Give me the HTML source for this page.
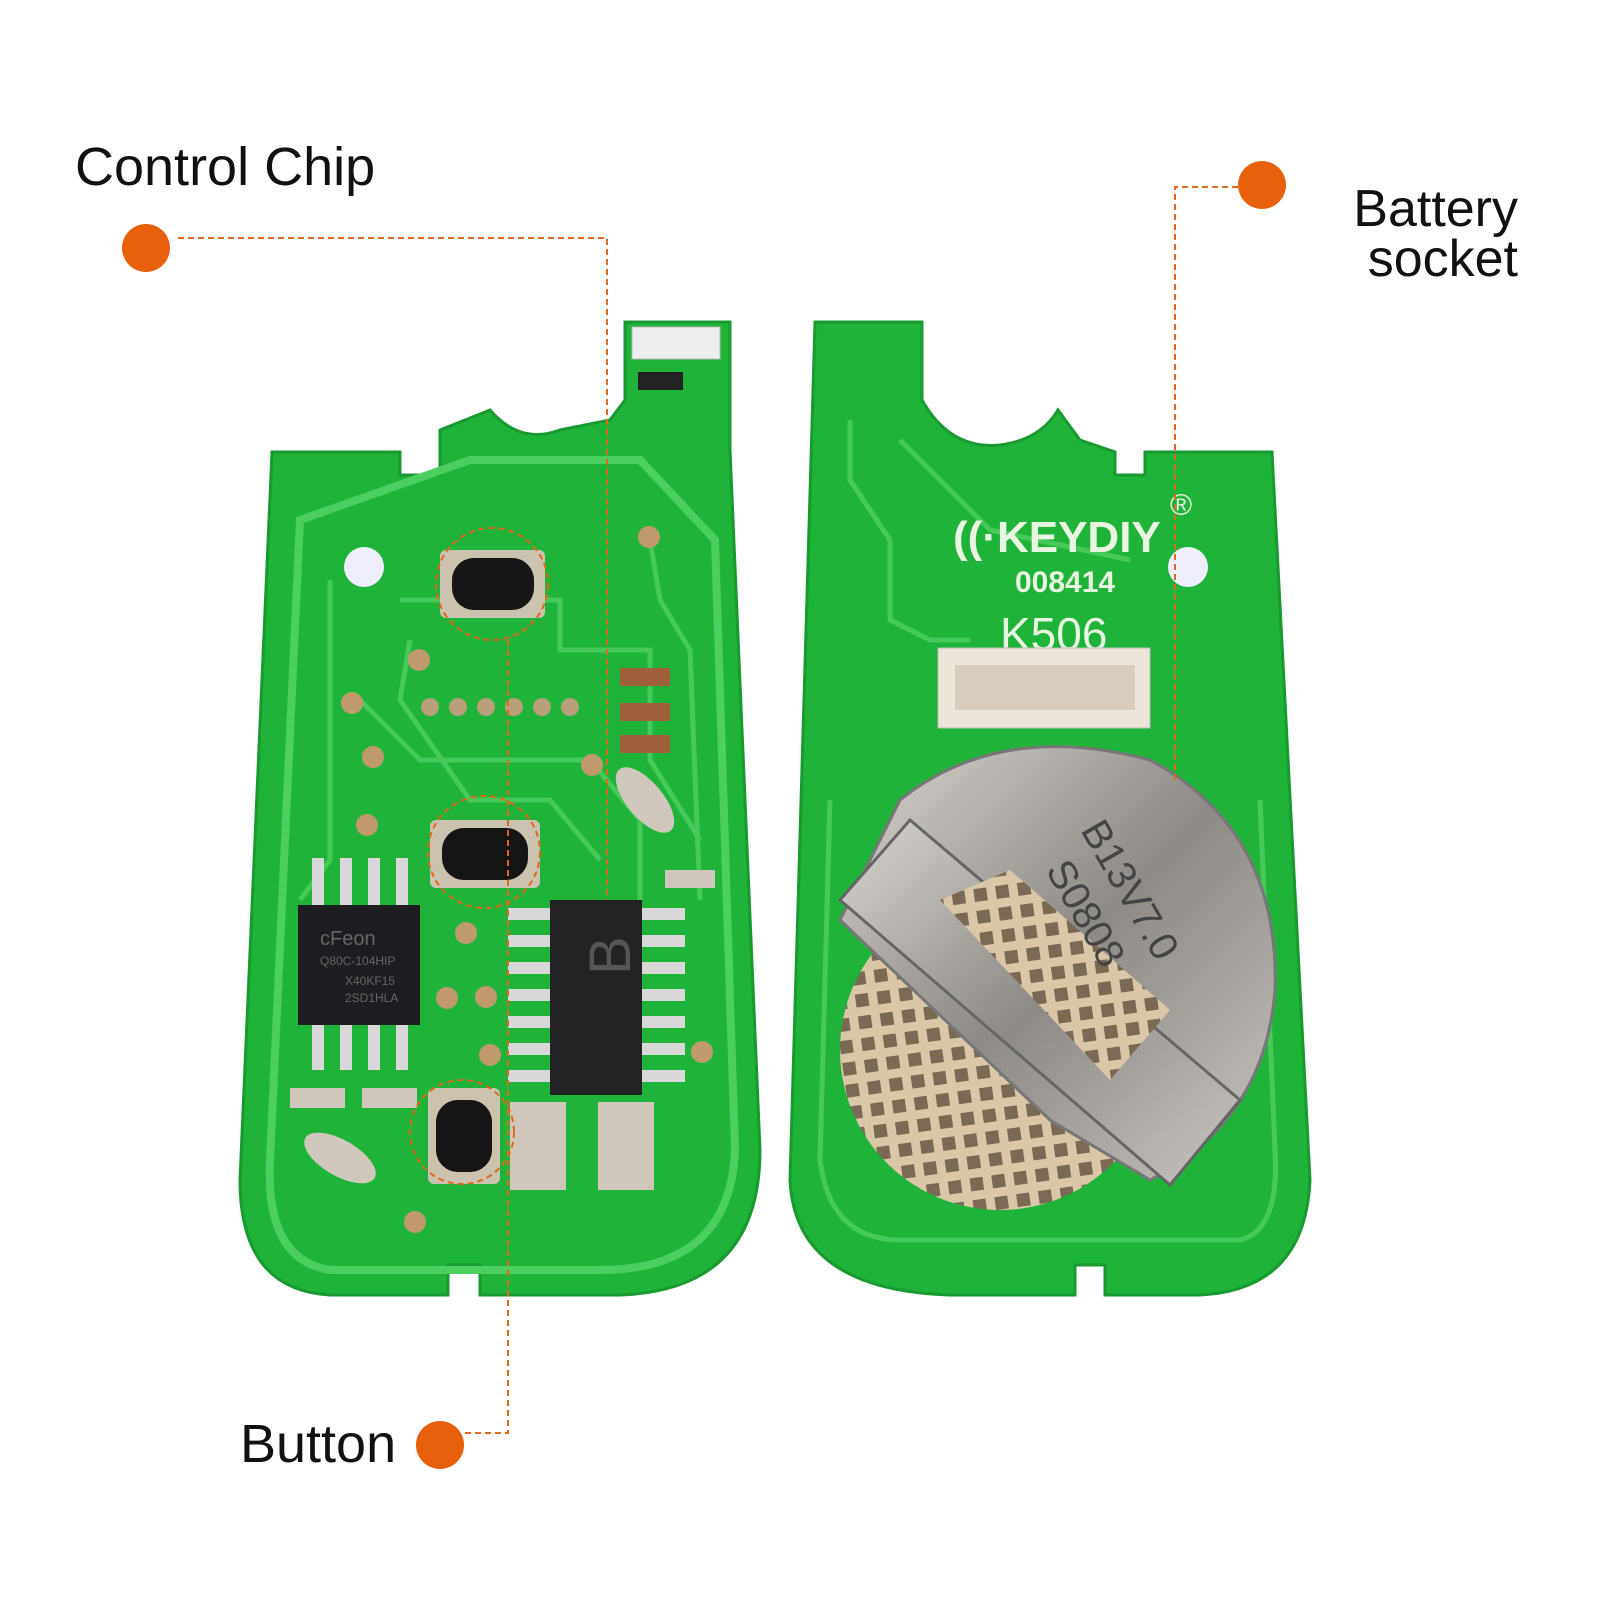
<!DOCTYPE html>
<html><head><meta charset="utf-8"><style>
html,body{margin:0;padding:0;background:#fff}
svg{display:block}
text{font-family:"Liberation Sans","DejaVu Sans",sans-serif}
</style></head><body>
<svg width="1600" height="1600" viewBox="0 0 1600 1600" xmlns="http://www.w3.org/2000/svg">
<rect width="1600" height="1600" fill="#fff"/>
<defs>
<pattern id="mesh" width="22" height="22" patternUnits="userSpaceOnUse" patternTransform="rotate(-8)">
<rect width="22" height="22" fill="#d9c7a8"/><rect x="4" y="4" width="13" height="13" fill="#7a6a55"/>
</pattern>
<linearGradient id="silver" x1="0" y1="0" x2="1" y2="1">
<stop offset="0" stop-color="#d8d4cf"/><stop offset="0.5" stop-color="#8d8a86"/><stop offset="1" stop-color="#c9c4bf"/>
</linearGradient>
</defs>
<!-- Left PCB -->
<path d="M625,322 L730,322 L730,450 L760,1150 Q760,1290 620,1295 L480,1295 L480,1265 L448,1265 L448,1295 L330,1295 Q240,1290 240,1180 L272,452 L400,452 L400,475 L440,475 L440,430 L490,410 Q520,445 560,430 L610,420 L625,400 Z" fill="#1fb33a" stroke="#189a30" stroke-width="3"/>
<path d="M300,520 L470,460 L640,460 L715,540 L735,1150 Q730,1270 600,1270 L330,1270 Q265,1260 270,1160 Z" fill="none" stroke="#4ccf5e" stroke-width="8"/>
<g fill="none" stroke="#47c95a" stroke-width="5">
<path d="M400,600 L560,600 L560,650 L650,650 L650,760 L700,840"/>
<path d="M360,700 L420,760 L590,760 L640,820 L640,900"/>
<path d="M410,640 L400,700 L470,800 L550,800 L600,860"/>
<path d="M330,580 L330,860 L300,900"/>
<path d="M650,540 L660,600 L690,650 L700,900"/>
</g>
<rect x="632" y="327" width="88" height="32" fill="#eee" stroke="#bbb"/>
<rect x="638" y="372" width="45" height="18" fill="#222"/>
<circle cx="364" cy="567" r="20" fill="#eef"/>
<!-- buttons -->
<g>
<rect x="440" y="550" width="105" height="68" rx="6" fill="#ccc2b0"/><rect x="452" y="558" width="82" height="52" rx="22" fill="#151515"/>
<rect x="430" y="820" width="110" height="68" rx="6" fill="#ccc2b0"/><rect x="442" y="828" width="86" height="52" rx="22" fill="#151515"/>
<rect x="428" y="1088" width="72" height="96" rx="6" fill="#ccc2b0"/><rect x="436" y="1100" width="56" height="72" rx="22" fill="#151515"/>
</g>
<!-- pads -->
<g fill="#c19a6b">
<circle cx="419" cy="660" r="11"/><circle cx="352" cy="703" r="11"/><circle cx="373" cy="757" r="11"/><circle cx="367" cy="825" r="11"/>
<circle cx="649" cy="537" r="11"/><circle cx="592" cy="765" r="11"/><circle cx="466" cy="933" r="11"/><circle cx="447" cy="998" r="11"/><circle cx="486" cy="997" r="11"/><circle cx="490" cy="1055" r="11"/><circle cx="702" cy="1052" r="11"/><circle cx="415" cy="1222" r="11"/>
</g>
<g fill="#b8a07a"><circle cx="430" cy="707" r="9"/><circle cx="458" cy="707" r="9"/><circle cx="486" cy="707" r="9"/><circle cx="514" cy="707" r="9"/><circle cx="542" cy="707" r="9"/><circle cx="570" cy="707" r="9"/></g>
<g fill="#a0603a"><rect x="620" y="668" width="50" height="18"/><rect x="620" y="703" width="50" height="18"/><rect x="620" y="735" width="50" height="18"/></g>
<!-- flash chip -->
<g fill="#d8d8d8"><rect x="312" y="858" width="12" height="50"/><rect x="340" y="858" width="12" height="50"/><rect x="368" y="858" width="12" height="50"/><rect x="396" y="858" width="12" height="50"/>
<rect x="312" y="1020" width="12" height="50"/><rect x="340" y="1020" width="12" height="50"/><rect x="368" y="1020" width="12" height="50"/><rect x="396" y="1020" width="12" height="50"/></g>
<rect x="298" y="905" width="122" height="120" fill="#1e1e22"/>
<text x="320" y="945" font-size="20" fill="#666">cFeon</text>
<text x="320" y="965" font-size="12" fill="#666">Q80C-104HIP</text>
<text x="345" y="985" font-size="12" fill="#666">X40KF15</text>
<text x="345" y="1002" font-size="12" fill="#666">2SD1HLA</text>
<!-- main chip -->
<g fill="#d8d8d8">
<rect x="508" y="908" width="45" height="12"/><rect x="508" y="935" width="45" height="12"/><rect x="508" y="962" width="45" height="12"/><rect x="508" y="989" width="45" height="12"/><rect x="508" y="1016" width="45" height="12"/><rect x="508" y="1043" width="45" height="12"/><rect x="508" y="1070" width="45" height="12"/>
<rect x="640" y="908" width="45" height="12"/><rect x="640" y="935" width="45" height="12"/><rect x="640" y="962" width="45" height="12"/><rect x="640" y="989" width="45" height="12"/><rect x="640" y="1016" width="45" height="12"/><rect x="640" y="1043" width="45" height="12"/><rect x="640" y="1070" width="45" height="12"/>
</g>
<rect x="550" y="900" width="92" height="195" fill="#232325"/>
<text x="620" y="1025" font-size="58" fill="#555" transform="rotate(-90 600 995)">B</text>
<g fill="#cfc7bb"><rect x="510" y="1102" width="56" height="88"/><rect x="598" y="1102" width="56" height="88"/><rect x="290" y="1088" width="55" height="20"/><rect x="362" y="1088" width="55" height="20"/><rect x="665" y="870" width="50" height="18"/></g>
<ellipse cx="340" cy="1158" rx="40" ry="18" transform="rotate(30 340 1158)" fill="#d0c8bc"/>
<ellipse cx="645" cy="800" rx="40" ry="18" transform="rotate(50 645 800)" fill="#d0c8bc"/>
<!-- Right PCB -->
<path d="M815,322 L922,322 L922,400 Q950,450 1000,445 Q1040,440 1058,410 L1080,440 L1115,452 L1115,475 L1145,475 L1145,452 L1272,452 L1310,1180 Q1305,1290 1200,1295 L1105,1295 L1105,1265 L1075,1265 L1075,1295 L950,1295 Q795,1290 790,1180 Z" fill="#1fb33a" stroke="#189a30" stroke-width="3"/>
<path d="M850,420 L850,480 L890,540 L890,620 L930,640 L970,640" fill="none" stroke="#47c95a" stroke-width="5"/>
<path d="M900,440 L990,530 L1130,560" fill="none" stroke="#47c95a" stroke-width="5"/>
<path d="M830,800 L820,1160 Q830,1240 900,1240 L1240,1240 Q1280,1230 1275,1150 L1260,800" fill="none" stroke="#47c95a" stroke-width="5"/>
<circle cx="1188" cy="567" r="20" fill="#eef"/>
<text x="953" y="552" font-size="44" font-weight="bold" fill="#e8f5e0">((·KEYDIY</text>
<text x="1170" y="515" font-size="30" fill="#e8f5e0">®</text>
<text x="1015" y="592" font-size="30" font-weight="bold" fill="#e8f5e0">008414</text>
<text x="1000" y="650" font-size="46" fill="#e8f5e0">K506</text>
<rect x="938" y="648" width="212" height="80" fill="#eee6da" stroke="#bbb"/>
<rect x="955" y="665" width="180" height="45" fill="#d8cdbd"/>
<circle cx="1000" cy="1050" r="160" fill="url(#mesh)"/>
<path d="M900,800 Q1000,720 1150,760 Q1280,830 1275,990 Q1265,1120 1150,1180 L1050,1120 L840,920 Z" fill="url(#silver)" stroke="#777" stroke-width="3"/>
<path d="M840,900 L910,820 L1240,1100 L1170,1185 Z" fill="url(#silver)" stroke="#666" stroke-width="3"/>
<path d="M940,900 L1010,870 L1170,1010 L1110,1080 Z" fill="url(#mesh)"/>
<text x="1080" y="830" font-size="40" fill="#444" transform="rotate(60 1080 830)">B13V7.0</text>
<text x="1045" y="870" font-size="40" fill="#444" transform="rotate(60 1045 870)">S0808</text>
<!-- annotations -->
<g fill="none" stroke="#e0681a" stroke-width="2" stroke-dasharray="6,4">
<path d="M178,238 L607,238 L607,900"/>
<path d="M1238,187 L1175,187 L1175,780"/>
<path d="M465,1433 L508,1433 L508,640"/>
<circle cx="492" cy="584" r="56"/>
<circle cx="484" cy="852" r="56"/>
<circle cx="462" cy="1132" r="52"/>
</g>
<g fill="#e8600c"><circle cx="146" cy="248" r="24"/><circle cx="1262" cy="185" r="24"/><circle cx="440" cy="1445" r="24"/></g>
<text x="75" y="185" font-size="54" fill="#111">Control Chip</text>
<text x="1518" y="226" font-size="52" fill="#111" text-anchor="end">Battery</text>
<text x="1518" y="276" font-size="52" fill="#111" text-anchor="end">socket</text>
<text x="240" y="1462" font-size="54" fill="#111">Button</text>
</svg>
</body></html>
